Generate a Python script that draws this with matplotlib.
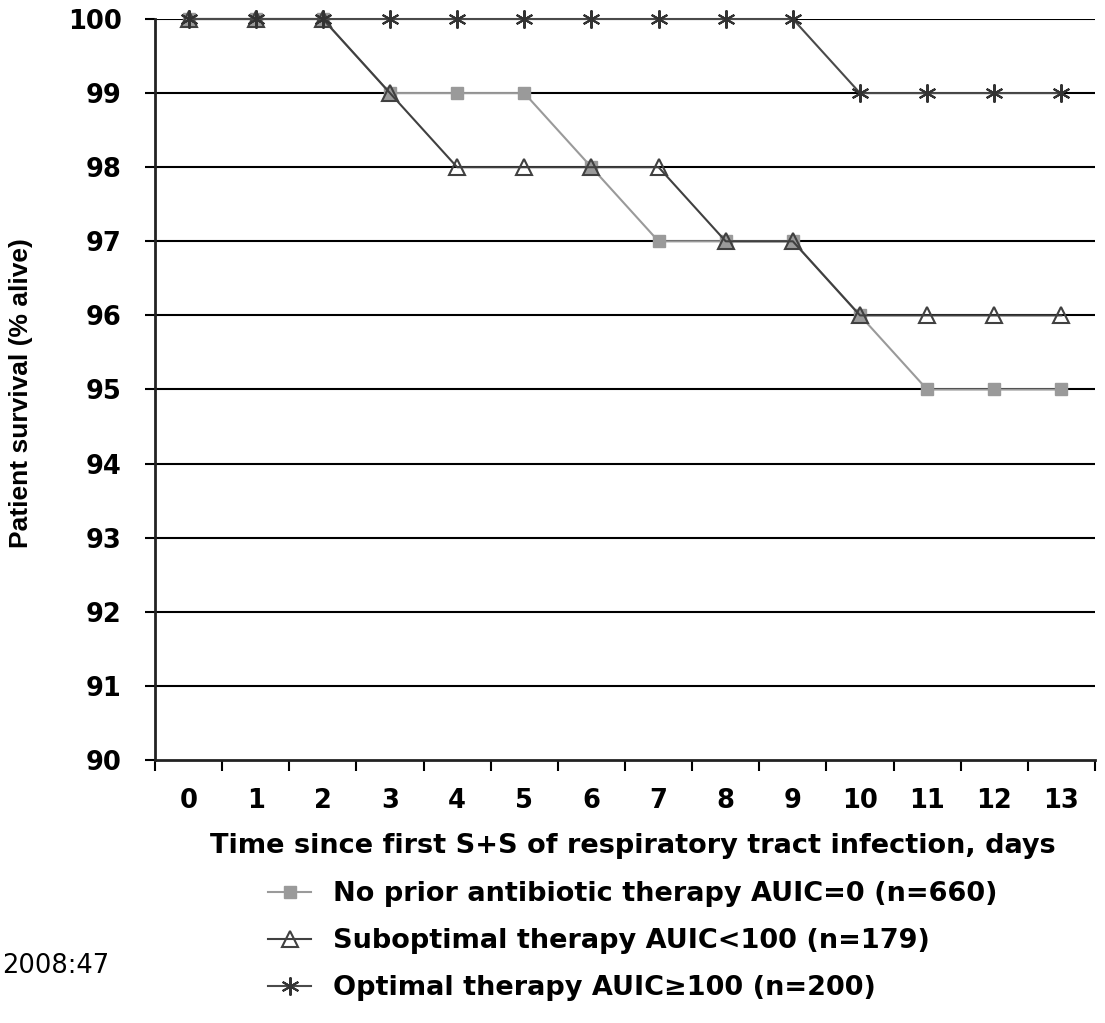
import matplotlib
matplotlib.use("Agg")
import matplotlib.pyplot as plt
import numpy as np

days = list(range(14))
no_prior = [100, 100, 100, 99, 99, 99, 98, 97, 97, 97, 96, 95, 95, 95]
suboptimal = [100, 100, 100, 99, 98, 98, 98, 98, 97, 97, 96, 96, 96, 96]
optimal = [100, 100, 100, 100, 100, 100, 100, 100, 100, 100, 99, 99, 99, 99]
labels = ["No prior antibiotic therapy AUIC=0 (n=660)",
          "Suboptimal therapy AUIC<100 (n=179)",
          "Optimal therapy AUIC\u2265100 (n=200)"]
y_ticks = list(range(90, 101))
xlabel = "Time since first S+S of respiratory tract infection, days"
ylabel = "Patient survival (% alive)"
source = "2008:47"

W, H = 1105, 1023
fig = plt.figure(figsize=(W / 100, H / 100), dpi=100)
ax = fig.add_axes([155 / W, 1 - 760 / H, (1095 - 155) / W, (760 - 19) / H])

bold = dict(family="DejaVu Sans", weight="bold")

# gridlines
for y in y_ticks[1:]:
    ax.axhline(y, color="black", lw=1.5, zorder=1)

star = (6, 2, 0)
l1, = ax.plot(days, no_prior, color="#9a9a9a", lw=1.5, marker="s", ms=9,
              mfc="#9a9a9a", mec="#9a9a9a", zorder=3, clip_on=False)
l2, = ax.plot(days, suboptimal, color="#404040", lw=1.5, marker="^", ms=11,
              mfc="none", mec="#404040", mew=1.5, zorder=4, clip_on=False)
l3, = ax.plot(days, optimal, color="#4a4a4a", lw=1.5, marker=star, ms=13,
              mec="#333333", mew=1.5, zorder=5, clip_on=False)

ax.set_xlim(-0.5, 13.5)
ax.set_ylim(90, 100)
ax.set_yticks(y_ticks)
ax.set_yticklabels([str(v) for v in y_ticks], fontsize=18.5, **bold)
ax.set_xticks(days)
ax.set_xticklabels([str(d) for d in days], fontsize=18.5, **bold)
ax.set_xticks(np.arange(-0.5, 14.0, 1.0), minor=True)
ax.tick_params(axis="x", which="major", length=0, pad=20)
ax.tick_params(axis="x", which="minor", length=8, width=1.5, direction="out")
ax.tick_params(axis="y", length=7, width=1.5, direction="out", pad=17)
for s in ["top", "right"]:
    ax.spines[s].set_visible(False)
for s in ["left", "bottom"]:
    ax.spines[s].set_linewidth(2)
    ax.spines[s].set_color("#222222")

ax.set_xlabel(xlabel, fontsize=19.5, **bold)
ax.xaxis.set_label_coords((633 - 155) / (1095 - 155), -(833 - 760) / (760 - 19))
ax.set_ylabel(ylabel, family="Liberation Sans", weight="bold", fontsize=19)
ax.yaxis.set_label_coords(-(155 - 9) / (1095 - 155), (760 - 393) / (760 - 19))
ax.yaxis.label.set_va("top")

fig.legend([l1, l2, l3], labels, loc="upper left",
           bbox_to_anchor=(268 / W, 1 - 881 / H), frameon=False,
           borderaxespad=0, borderpad=0, handlelength=1.6,
           handletextpad=0.8, labelspacing=0.78,
           prop=dict(family="DejaVu Sans", weight="bold", size=19.5))

fig.text(2 / W, 1 - 966 / H, source, ha="left", va="center",
         family="DejaVu Sans", fontsize=18.5)

fig.savefig("out.png", dpi=100)
